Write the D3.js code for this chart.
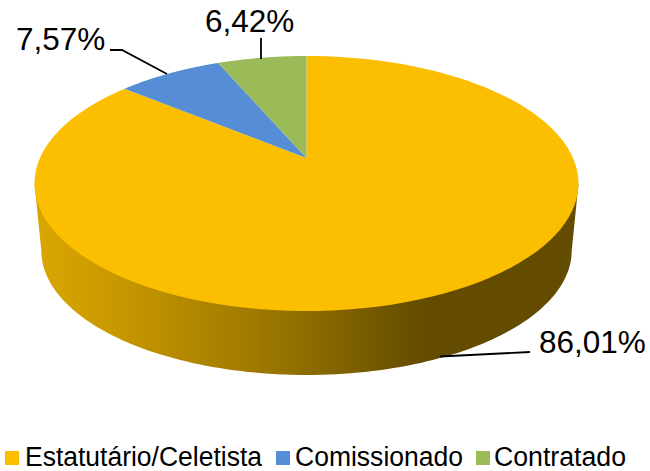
<!DOCTYPE html>
<html><head><meta charset="utf-8">
<script src="https://cdnjs.cloudflare.com/ajax/libs/d3/7.8.5/d3.min.js"></script>
<style>html,body{margin:0;padding:0;background:#fff}svg{display:block}text{font-family:"Liberation Sans",Arial,sans-serif;fill:#000}</style>
</head><body><div id="c"></div>
<script>
const categories = ["Estatutário/Celetista","Comissionado","Contratado"];
const values = [86.01,7.57,6.42];
const labels = ["86,01%","7,57%","6,42%"];
const colors = ["#FBBE00","#558ED5","#9BBB59"];

const W=650,H=471;
const svg=d3.select("#c").append("svg").attr("width",W).attr("height",H);

// perspective projection of the pie disc
const cx=306.5, cy=158, bx=266.5, by=122.4, p=0.2;
function proj(a,s=1,dy=0){
  const u=Math.sin(a), v=-Math.cos(a), d=1-p*v;
  return [cx+s*bx*u/d, cy+dy+s*by*v/d];
}
const line=d3.line();
const arcPts=(a0,a1,s,dy)=>d3.range(0,121).map(i=>proj(a0+(a1-a0)*i/120,s,dy));

const arcs=d3.pie().sort(null).value(d=>d)(values);

const defs=svg.append("defs");
const g=defs.append("linearGradient").attr("id","side").attr("gradientUnits","userSpaceOnUse")
  .attr("x1",38).attr("x2",575).attr("y1",0).attr("y2",0);
[[0,"#D9A500"],[0.13,"#CB9A00"],[0.4,"#A07A00"],[0.72,"#634C00"],[1,"#634C00"]]
  .forEach(([o,c])=>g.append("stop").attr("offset",o).attr("stop-color",c));

// side wall
const aR=Math.acos(-0.2), aL=2*Math.PI-aR, S=0.975, DY=67.8;
const sidePts=[proj(aL),...arcPts(aL,aR,S,DY),proj(aR)];
svg.append("path").attr("d",line(sidePts)+"Z").attr("fill","url(#side)");

// top face
arcs.forEach((d,i)=>{
  svg.append("path")
    .attr("d",line([[cx,cy],...arcPts(d.startAngle,d.endAngle,1,0)])+"Z")
    .attr("fill",colors[i]);
});

// leader lines
const leaders=[
  [[530,352],[440,356.5]],
  [[110,50],[122,50],[167,74]],
  [[261,38],[261,59]]
];
leaders.forEach(l=>svg.append("path").attr("d",line(l)).attr("fill","none").attr("stroke","#000").attr("stroke-width",1.8));

// data labels
const labelPos=[[539,353],[16,50],[205,32]];
labels.forEach((t,i)=>svg.append("text").attr("x",labelPos[i][0]).attr("y",labelPos[i][1]).attr("font-size",31.5).text(t));

// legend
const legendX=[5,276,476], textX=[25,295,494], textW=[237,168,132];
categories.forEach((n,i)=>{
  svg.append("rect").attr("x",legendX[i]).attr("y",451).attr("width",14).attr("height",14).attr("fill",colors[i]);
  svg.append("text").attr("x",textX[i]).attr("y",466).attr("font-size",27)
    .attr("textLength",textW[i]).attr("lengthAdjust","spacingAndGlyphs").text(n);
});
</script></body></html>
